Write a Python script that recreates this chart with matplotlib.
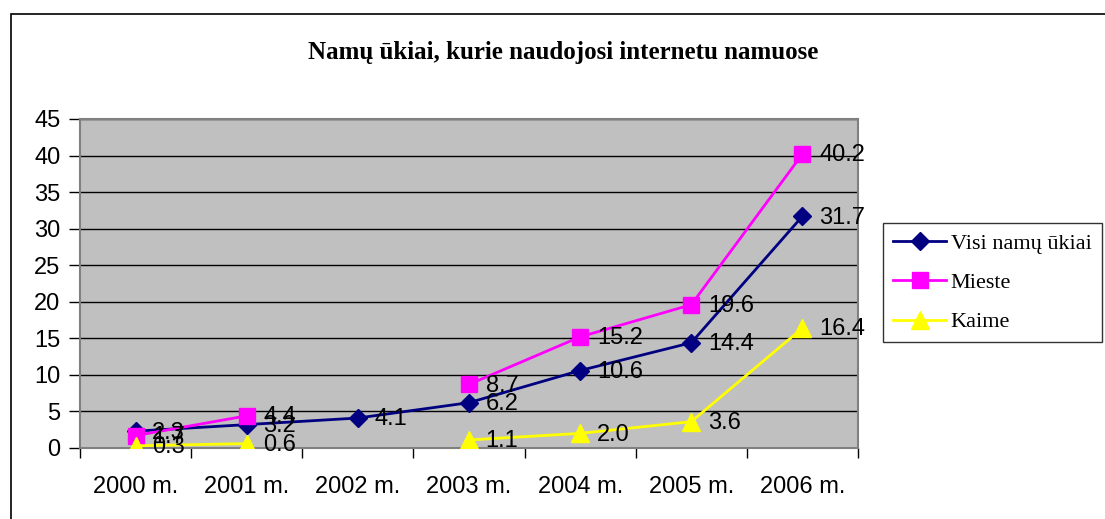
import matplotlib
matplotlib.use("Agg")
import matplotlib.pyplot as plt
import numpy as np
from matplotlib.patches import Rectangle

years = ["2000 m.", "2001 m.", "2002 m.", "2003 m.", "2004 m.", "2005 m.", "2006 m."]
visi = [2.3, 3.2, 4.1, 6.2, 10.6, 14.4, 31.7]
mieste = [1.7, 4.4, None, 8.7, 15.2, 19.6, 40.2]
kaime = [0.3, 0.6, None, 1.1, 2.0, 3.6, 16.4]
yticks = [0, 5, 10, 15, 20, 25, 30, 35, 40, 45]
title = "Namų ūkiai, kurie naudojosi internetu namuose"

sans = ["Liberation Sans", "DejaVu Sans"]
serif = ["Liberation Serif", "DejaVu Serif"]

fig = plt.figure(figsize=(11.05, 5.19), dpi=100)
fig.patches.append(Rectangle((11/1105, -0.01), 1.2, 1 - 14/519 + 0.01, transform=fig.transFigure,
                             fill=False, edgecolor="black", linewidth=1.2))

ax = fig.add_axes([80/1105, 1 - 448/519, (858-80)/1105, (448-119)/519])
ax.set_facecolor("#C0C0C0")
for s in ax.spines.values():
    s.set_color("#808080")
    s.set_linewidth(1.5)

x = np.arange(len(years))

def arr(v):
    return np.array([np.nan if a is None else a for a in v], dtype=float)

series = [
    ("Visi namų ūkiai", arr(visi), "#000080", "D", 9),
    ("Mieste", arr(mieste), "#FF00FF", "s", 12),
    ("Kaime", arr(kaime), "#FFFF00", "^", 13),
]
for name, vals, col, mk, ms in series:
    ax.plot(x, vals, color=col, marker=mk, markersize=ms, linewidth=2, label=name, zorder=3)
    for xi, v in zip(x, vals):
        if not np.isnan(v):
            ax.annotate(f"{v:.1f}", (xi, v), xytext=(12, -1), textcoords="offset points",
                        va="center", ha="left", fontsize=17, family=sans, color="black", zorder=4)

ax.set_xlim(-0.5, 6.5)
ax.set_ylim(0, 45)
ax.set_yticks(yticks)
ax.set_yticklabels([str(t) for t in yticks], fontsize=17, family=sans)
ax.yaxis.grid(True, color="black", linewidth=1)
ax.set_axisbelow(True)
ax.tick_params(axis="y", direction="out", length=8, width=1, color="black", pad=6)

ax.set_xticks(np.arange(-0.5, 7, 1))
ax.set_xticklabels([])
ax.set_xticks(x, minor=True)
ax.set_xticklabels(years, minor=True, fontsize=17, family=sans)
ax.tick_params(axis="x", which="major", direction="out", length=7, width=1, color="black")
ax.tick_params(axis="x", which="minor", length=0, pad=20)

fig.text(563/1105, 1 - 53/519, title, ha="center", va="center", fontsize=18,
         fontweight="bold", family=serif)

leg = ax.legend(loc="upper left", bbox_to_anchor=(883/1105, 1 - 223/519), bbox_transform=fig.transFigure,
                prop={"family": serif, "size": 16}, frameon=True, fancybox=False,
                edgecolor="black", handlelength=2.4, borderpad=0.45, labelspacing=0.85,
                handletextpad=0.2, borderaxespad=0)
leg.get_frame().set_linewidth(1)

fig.savefig("out.png", dpi=100)
